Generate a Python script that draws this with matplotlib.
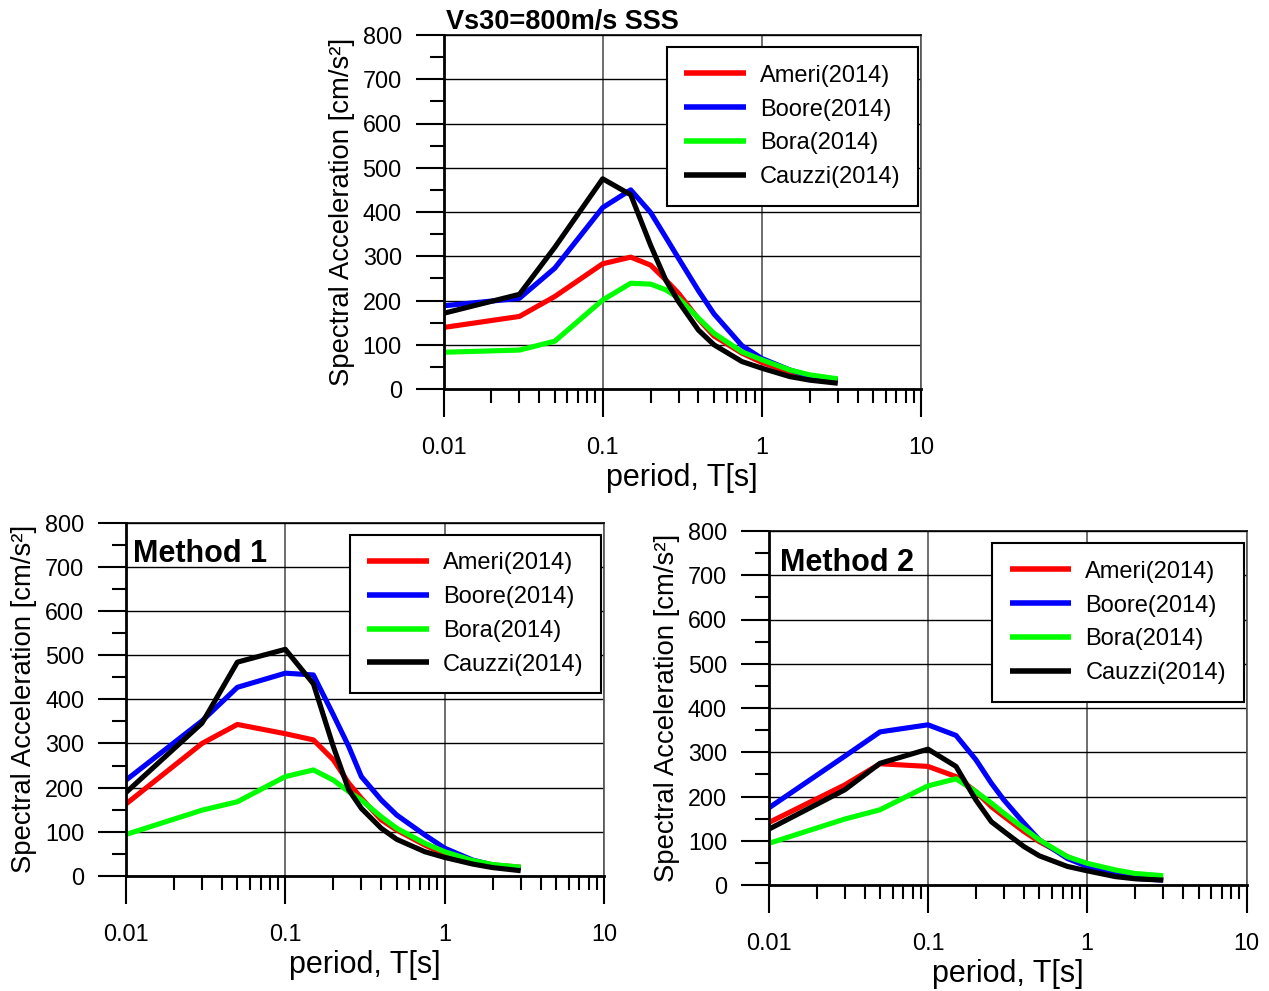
import matplotlib
matplotlib.use('Agg')
import matplotlib.pyplot as plt
from matplotlib.ticker import LogLocator, MultipleLocator, NullFormatter

plt.rcParams['font.family'] = ['Liberation Sans', 'DejaVu Sans']

# Periods (s)
periods = [0.01, 0.03, 0.05, 0.1, 0.15, 0.2, 0.25, 0.3, 0.4, 0.5, 0.75, 1.0, 1.5, 2.0, 3.0]

# Vs30=800m/s SSS
ameri_sss = [139, 164, 209, 283, 298, 280, 246, 216, 158, 120, 81, 60, 38, 28, 20]
boore_sss = [188, 205, 273, 410, 450, 399, 342, 295, 222, 170, 98, 69, 43, 29, 20]
bora_sss = [83, 88, 108, 201, 239, 237, 224, 205, 160, 126, 84, 66, 43, 32, 23]
cauzzi_sss = [171, 214, 320, 475, 439, 325, 245, 197, 133, 100, 62, 47, 28, 20, 13]

# Method 1
ameri_m1 = [163, 300, 343, 322, 308, 263, 210, 176, 127, 104, 70, 50, 32, 25, 20]
boore_m1 = [217, 351, 427, 459, 455, 365, 293, 225, 172, 138, 93, 63, 36, 25, 17]
bora_m1 = [94, 149, 168, 225, 240, 217, 191, 172, 134, 108, 74, 55, 35, 26, 20]
cauzzi_m1 = [189, 346, 484, 513, 435, 293, 195, 153, 108, 83, 55, 42, 27, 19, 12]

# Method 2
ameri_m2 = [141, 226, 274, 268, 245, 211, 177, 155, 121, 98, 64, 45, 26, 19, 13]
boore_m2 = [174, 291, 346, 362, 338, 283, 230, 192, 140, 102, 60, 42, 23, 15, 11]
bora_m2 = [94, 149, 170, 224, 240, 211, 185, 162, 128, 102, 64, 49, 34, 26, 21]
cauzzi_m2 = [126, 215, 275, 307, 268, 192, 143, 121, 87, 66, 42, 32, 19, 14, 11]

model_names = ['Ameri(2014)', 'Boore(2014)', 'Bora(2014)', 'Cauzzi(2014)']
model_colors = ['#ff0000', '#0000ff', '#00ff00', '#000000']

x_ticks = [0.01, 0.1, 1, 10]
x_tick_labels = ['0.01', '0.1', '1', '10']
y_ticks = [0, 100, 200, 300, 400, 500, 600, 700, 800]

W, H = 1269, 991
fig = plt.figure(figsize=(W / 100, H / 100), dpi=100)


def px_axes(x0, x1, y_bottom, y_top):
    # axes rectangle given in pixel coordinates of the image
    return fig.add_axes([x0 / W, (H - y_bottom) / H, (x1 - x0) / W, (y_bottom - y_top) / H])


def draw_panel(ax, series, tag=None, tag_x=0.015, title=None):
    for vals, name, col in zip(series, model_names, model_colors):
        ax.plot(periods, vals, color=col, lw=3.7, label=name, solid_capstyle='butt')

    ax.set_xscale('log')
    ax.set_xlim(0.01, 10)
    ax.set_ylim(0, 800)
    ax.set_xticks(x_ticks, x_tick_labels)
    ax.set_yticks(y_ticks)
    ax.xaxis.set_minor_locator(LogLocator(base=10, subs=range(2, 10)))
    ax.xaxis.set_minor_formatter(NullFormatter())
    ax.yaxis.set_minor_locator(MultipleLocator(50))

    ax.set_axisbelow(True)
    ax.grid(True, which='major', axis='y', color='black', lw=1.0)
    ax.grid(True, which='major', axis='x', color='#555555', lw=1.2)

    ax.tick_params(which='major', direction='out', length=20, width=1.5, labelsize=16.8)
    ax.tick_params(which='minor', direction='out', length=10, width=1.5)
    ax.tick_params(axis='x', which='major', pad=14)
    ax.tick_params(axis='y', which='major', pad=10)

    for side in ['left', 'bottom']:
        ax.spines[side].set_linewidth(2)
    ax.spines['top'].set_linewidth(1.2)
    ax.spines['right'].set_color('#555555')
    ax.spines['right'].set_linewidth(1.2)

    ax.text(0.5, -0.252, 'period, T[s]', transform=ax.transAxes,
            ha='center', va='center', fontsize=22)
    ax.text(-0.213, 0.5, 'Spectral Acceleration [cm/s²]', transform=ax.transAxes,
            ha='center', va='center', rotation=90, fontsize=19.8)

    if title:
        ax.text(0.005, 1.017, title, transform=ax.transAxes, ha='left', va='baseline',
                fontsize=19.5, fontweight='bold')
    if tag:
        ax.text(tag_x, 0.887, tag, transform=ax.transAxes, ha='left', va='baseline',
                fontsize=22, fontweight='bold')

    leg = ax.legend(loc='upper right', bbox_to_anchor=(0.994, 0.966), borderaxespad=0,
                    fontsize=17, handlelength=2.6, handletextpad=0.6, borderpad=0.75,
                    labelspacing=0.5, fancybox=False, framealpha=1, edgecolor='black')
    leg.get_frame().set_linewidth(1.5)
    for line in leg.get_lines():
        line.set_linewidth(4.0)


ax_top = px_axes(443.5, 921, 389, 35)
draw_panel(ax_top, [ameri_sss, boore_sss, bora_sss, cauzzi_sss], title='Vs30=800m/s SSS')

ax_m1 = px_axes(126, 604, 876, 522.5)
draw_panel(ax_m1, [ameri_m1, boore_m1, bora_m1, cauzzi_m1], tag='Method 1', tag_x=0.015)

ax_m2 = px_axes(768.7, 1246.5, 885, 531)
draw_panel(ax_m2, [ameri_m2, boore_m2, bora_m2, cauzzi_m2], tag='Method 2', tag_x=0.024)

plt.savefig('out.png', dpi=100)
